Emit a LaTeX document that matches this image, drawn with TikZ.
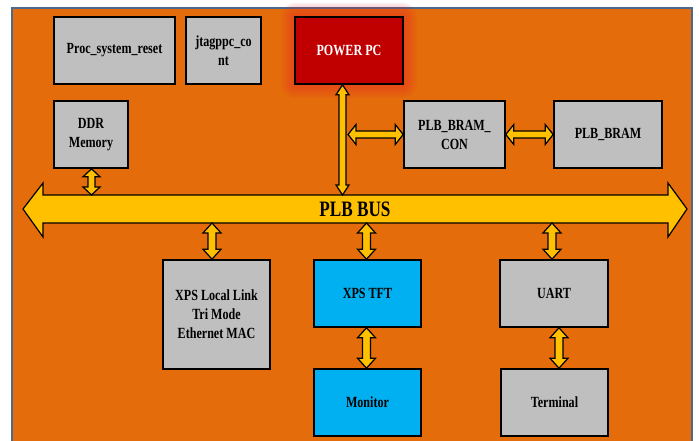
\documentclass[tikz,border=0pt]{standalone}
\usepackage{fontspec}
\setmainfont{Liberation Serif}[FakeStretch=0.78]
\usetikzlibrary{calc}
\definecolor{boardorange}{HTML}{E46C0A}
\definecolor{framegray}{HTML}{4A6890}
\definecolor{busyellow}{HTML}{FFC000}
\definecolor{ipgray}{HTML}{BFBFBF}
\definecolor{cpured}{HTML}{C00000}
\definecolor{tftblue}{HTML}{00B0F0}
\definecolor{glowred}{HTML}{E8282A}
% [dx]{top}{bottom}{shaft}{head}{head length}
\newcommand\vlink[6][0pt]{%
  \path[link] let \p1=([xshift=#1]#2), \p2=(#3) in
    (\x1,\y1) -- (\x1+#5,\y1-#6) -- (\x1+#4,\y1-#6) -- (\x1+#4,\y2+#6) -- (\x1+#5,\y2+#6)
    -- (\x1,\y2) -- (\x1-#5,\y2+#6) -- (\x1-#4,\y2+#6) -- (\x1-#4,\y1-#6) -- (\x1-#5,\y1-#6) -- cycle;}
% {left}{right}{shaft}{head}{head length}
\newcommand\hlink[5]{%
  \path[link] let \p1=(#1), \p2=(#2) in
    (\x1,\y1) -- (\x1+#5,\y1+#4) -- (\x1+#5,\y1+#3) -- (\x2-#5,\y1+#3) -- (\x2-#5,\y1+#4)
    -- (\x2,\y1) -- (\x2-#5,\y1-#4) -- (\x2-#5,\y1-#3) -- (\x1+#5,\y1-#3) -- (\x1+#5,\y1-#4) -- cycle;}

\begin{document}
\begin{tikzpicture}[x=1pt,y=-1pt,
  box/.style={draw=black,line width=1.6pt,inner sep=1pt,align=center,
    font=\fontsize{15.5}{19}\selectfont\bfseries,minimum height=67pt},
  link/.style={fill=busyellow,draw=black,line width=1.2pt,line join=miter}]
\clip (0,0) rectangle (699,441);
\fill[white] (0,0) rectangle (699,441);
\path[fill=boardorange,draw=framegray,line width=1.5pt] (12,8) rectangle (692,460);
\foreach \g in {2,4,...,14}
  \fill[glowred,opacity=0.08,rounded corners=\g pt] (295-\g,17-\g) rectangle (403+\g,84+\g);
\node[box,fill=ipgray,minimum width=121pt] (rst) at (114.5,50.5) {Proc\_system\_reset};
\node[box,fill=ipgray,minimum width=75pt] (jtag) at (223.5,50.5) {jtagppc\_co\\nt};
\node[box,fill=cpured,text=white,minimum width=108pt] (ppc) at (349,50.5) {POWER PC};
\node[box,fill=ipgray,minimum width=74pt] (ddr) at (91,134.5) {DDR\\Memory};
\node[box,fill=ipgray,minimum width=101pt] (con) at (454.5,134.5) {PLB\_BRAM\_\\CON};
\node[box,fill=ipgray,minimum width=108pt] (bram) at (608,134.5) {PLB\_BRAM};
\node[box,fill=ipgray,minimum width=107pt,minimum height=109pt] (xps) at (216.5,314.5) {XPS Local Link\\Tri Mode\\Ethernet MAC};
\node[box,fill=tftblue,minimum width=107pt] (tft) at (367.5,293.5) {XPS TFT};
\node[box,fill=tftblue,minimum width=107pt] (mon) at (367.5,402.5) {Monitor};
\node[box,fill=ipgray,minimum width=108pt] (uart) at (554,293.5) {UART};
\node[box,fill=ipgray,minimum width=107pt] (term) at (554.5,402.5) {Terminal};
\path[link] (23,209) -- (43,183) -- (43,195) -- (668,195) -- (668,183) -- (687,209)
  -- (668,237) -- (668,223) -- (43,223) -- (43,237) -- cycle;
\node[font=\fontsize{22}{24}\selectfont\bfseries] (bus) at (355,209) {PLB BUS};
\coordinate (busN) at (355,195);
\coordinate (busS) at (355,223);
\coordinate (ppcS) at ([xshift=-6.5pt]ppc.south);
\coordinate (tap) at ($(ppcS |- con.west)+(5.5,0)$);
\vlink[0.5pt]{ddr.south}{busN}{3.5pt}{8.5pt}{8pt}
\vlink{ppcS}{busN}{3.5pt}{6.5pt}{10pt}
\hlink{tap}{con.west}{3.5pt}{10pt}{8pt}
\hlink{con.east}{bram.west}{3.5pt}{10pt}{8pt}
\vlink[-4.5pt]{xps.north |- busS}{xps.north}{4pt}{9pt}{10pt}
\vlink[-1pt]{tft.north |- busS}{tft.north}{4pt}{9pt}{10pt}
\vlink[-1pt]{tft.south}{mon.north}{4pt}{9pt}{10pt}
\vlink[-2pt]{uart.north |- busS}{uart.north}{4pt}{9pt}{10pt}
\vlink[5pt]{uart.south}{term.north}{4pt}{9pt}{10pt}
\end{tikzpicture}
\end{document}
